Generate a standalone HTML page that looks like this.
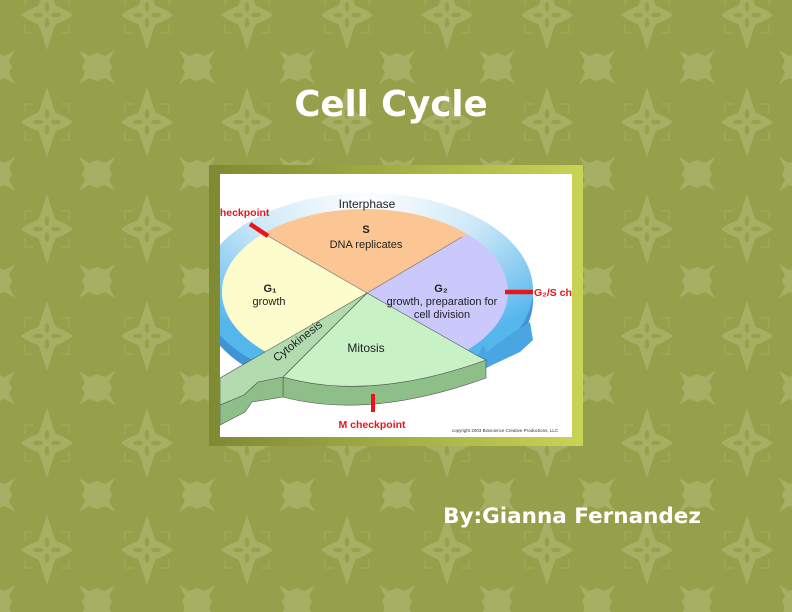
<!DOCTYPE html>
<html><head><meta charset="utf-8"><style>
html,body{margin:0;padding:0;width:792px;height:612px;overflow:hidden;background:#96a04b}
svg{display:block}
</style></head><body>
<svg width="792" height="612" viewBox="0 0 792 612" xmlns="http://www.w3.org/2000/svg" font-family="Liberation Sans, Arial, sans-serif">
<defs>
<g id="big" fill="#a6af64">
  <path d="M0,-35 C5,-20 7,-12 9,-9 C15,-7 21,-4 26,0 C21,4 15,7 9,9 C7,12 5,20 0,35 C-5,20 -7,12 -9,9 C-15,7 -21,4 -26,0 C-21,-4 -15,-7 -9,-9 C-7,-12 -5,-20 0,-35Z"/>
  <g fill="#97a14c"><ellipse cx="0" cy="-8" rx="2.3" ry="5"/><ellipse cx="0" cy="8" rx="2.3" ry="5"/><ellipse cx="-9" cy="0" rx="5" ry="2.3"/><ellipse cx="9" cy="0" rx="5" ry="2.3"/></g>
  <g fill="none" stroke="#a0aa5c" stroke-width="1.2"><path d="M-22,-9 V-18 H-14"/><path d="M22,-9 V-18 H14"/><path d="M-22,9 V18 H-14"/><path d="M22,9 V18 H14"/></g>
</g>
<path id="small" fill="#a6af64" d="M-18,-17 L-8,-11 L0,-14 L8,-11 L18,-17 L12,-6 L15,0 L12,6 L18,17 L8,11 L0,14 L-8,11 L-18,17 L-12,6 L-15,0 L-12,-6Z"/>
<pattern id="pat" width="100" height="107" patternUnits="userSpaceOnUse" x="-3" y="-40">
  <use href="#big" x="50" y="55"/>
  <use href="#small" x="0" y="0"/><use href="#small" x="100" y="0"/>
  <use href="#small" x="0" y="107"/><use href="#small" x="100" y="107"/>
</pattern>
<linearGradient id="frame" x1="0" x2="1" y1="0" y2="0"><stop offset="0" stop-color="#7d8a32"/><stop offset="1" stop-color="#c9d354"/></linearGradient>
<radialGradient id="ring" cx="0.5" cy="0.05" r="0.75"><stop offset="0" stop-color="#ffffff"/><stop offset="0.45" stop-color="#cfe9f8"/><stop offset="1" stop-color="#55b6ec"/></radialGradient>
<clipPath id="ic"><rect x="220" y="174" width="352" height="263"/></clipPath>
<clipPath id="pie"><ellipse cx="365" cy="292" rx="143" ry="83"/></clipPath>
</defs>
<rect width="792" height="612" fill="#96a04b"/>
<rect width="792" height="612" fill="url(#pat)"/>
<text x="391" y="116" text-anchor="middle" font-family="DejaVu Sans, sans-serif" font-weight="bold" font-size="35.5" fill="#fff">Cell Cycle</text>
<rect x="209" y="165" width="374" height="281" fill="url(#frame)"/>
<rect x="220" y="174" width="352" height="263" fill="#fff"/>
<g clip-path="url(#ic)">
  <ellipse cx="367" cy="300" rx="166" ry="98" fill="#3d95d6"/>
  <ellipse cx="367" cy="290" rx="166" ry="97" fill="url(#ring)"/>
  <g clip-path="url(#pie)">
    <polygon points="367,293 200,197 200,100 540,100 540,192" fill="#fbc594"/>
    <polygon points="367,293 200,197 200,470 290,400" fill="#fdfccc"/>
    <polygon points="367,293 540,192 540,420 480,360" fill="#cbc8fb"/>
  </g>
  <line x1="367" y1="293" x2="268" y2="236" stroke="#777" stroke-width="0.7"/>
  <line x1="367" y1="293" x2="462" y2="237" stroke="#777" stroke-width="0.7"/>
  <polygon points="478,355 483,345 487,352 505,338 530,322 533,340 520,352 486,368" fill="#4aa6e3"/>
  <!-- mitosis slab -->
  <path d="M283,377 Q370,402 486,360 L486,378 Q370,420 283,397Z" fill="#8fbf88" stroke="#555" stroke-width="0.6"/>
  <path d="M367,293 L283,377 Q370,402 486,360 L478,356 Z" fill="#c8f2c6" stroke="#555" stroke-width="0.6"/>
  <!-- cytokinesis arrow -->
  <path d="M220,405 L244,395 L258,382 L283,377 L283,397 L252,402 L245,412 L220,425 Z" fill="#8fbf88" stroke="#555" stroke-width="0.6"/>
  <path d="M367,293 L220,378 L220,405 L244,395 L258,382 L283,377 Z" fill="#b2dcb0" stroke="#555" stroke-width="0.6"/>
  <line x1="367" y1="293" x2="283" y2="377" stroke="#555" stroke-width="0.6" stroke-dasharray="2,1.5"/>
  <line x1="250" y1="224" x2="268" y2="236" stroke="#e8161a" stroke-width="4.5"/>
  <line x1="505" y1="292" x2="533" y2="292" stroke="#e8161a" stroke-width="4.5"/>
  <line x1="373" y1="394" x2="373" y2="412" stroke="#e8161a" stroke-width="4"/>
  <text x="214" y="216" font-size="10.5" font-weight="bold" fill="#e8161a">checkpoint</text>
  <text x="534" y="296" font-size="10.5" font-weight="bold" fill="#e8161a">G₂/S checkpoint</text>
  <text x="372" y="428" text-anchor="middle" font-size="10.5" font-weight="bold" fill="#e8161a">M checkpoint</text>
  <text x="505" y="432" text-anchor="middle" font-size="4.5" fill="#333">copyright 2003 Bioscience Creative Productions, LLC</text>
  <g font-size="11" fill="#222" text-anchor="middle">
    <text x="367" y="208" font-size="12">Interphase</text>
    <text x="366" y="233" font-weight="bold">S</text>
    <text x="366" y="248">DNA replicates</text>
    <text x="270" y="292" font-weight="bold">G₁</text>
    <text x="269" y="305">growth</text>
    <text x="441" y="292" font-weight="bold">G₂</text>
    <text x="442" y="305">growth, preparation for</text>
    <text x="442" y="318">cell division</text>
    <text x="366" y="352" font-size="12">Mitosis</text>
    <text x="300" y="344" font-size="11.5" transform="rotate(-38 300 344)">Cytokinesis</text>
  </g>
</g>
<text x="572" y="523" text-anchor="middle" font-family="DejaVu Sans, sans-serif" font-weight="bold" font-size="21.5" fill="#fff">By:Gianna Fernandez</text>
</svg>
</body></html>
